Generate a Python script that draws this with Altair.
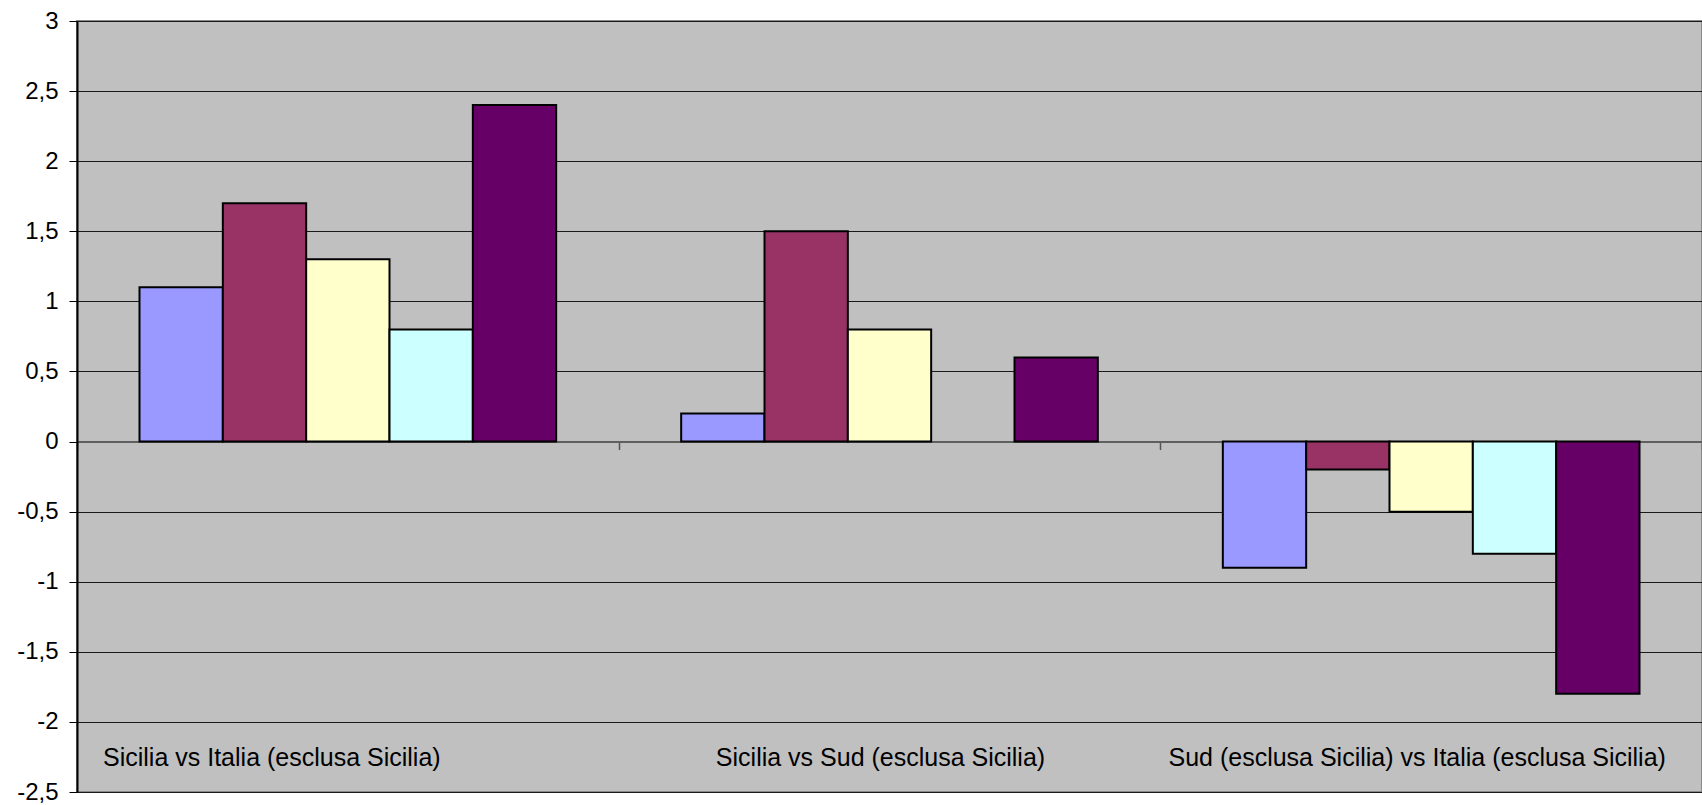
import altair as alt
import pandas as pd

# Confronti territoriali (categorie sull'asse x)
categorie = [
    "Sicilia vs Italia (esclusa Sicilia)",
    "Sicilia vs Sud (esclusa Sicilia)",
    "Sud (esclusa Sicilia) vs Italia (esclusa Sicilia)",
]

# Serie (una barra per serie in ogni categoria)
serie = ["Serie 1", "Serie 2", "Serie 3", "Serie 4", "Serie 5"]
colori = ["#9999FF", "#993366", "#FFFFCC", "#CCFFFF", "#660066"]

# Valori per serie, nell'ordine delle categorie (None = dato assente)
serie_1 = [1.1, 0.2, -0.9]
serie_2 = [1.7, 1.5, -0.2]
serie_3 = [1.3, 0.8, -0.5]
serie_4 = [0.8, None, -0.8]
serie_5 = [2.4, 0.6, -1.8]

tick_y = [-2.5, -2, -1.5, -1, -0.5, 0, 0.5, 1, 1.5, 2, 2.5, 3]

righe = []
for nome, valori in zip(serie, [serie_1, serie_2, serie_3, serie_4, serie_5]):
    for cat, v in zip(categorie, valori):
        if v is not None:
            righe.append({"categoria": cat, "serie": nome, "valore": v})
df = pd.DataFrame(righe)

W, H = 1625, 771
FONT = "Liberation Sans"
y_min, y_max = -2.5, 3.0
# distanza in pixel tra lo zero e il bordo inferiore dell'area del grafico
zero_dal_basso = H * (0 - y_min) / (y_max - y_min)

x_scale = alt.Scale(domain=categorie, paddingInner=0, paddingOuter=0)
y_scale = alt.Scale(domain=[y_min, y_max], nice=False, zero=False)

# Barre con asse delle categorie che passa per lo zero (solo tacche)
barre = alt.Chart(df).mark_bar(stroke="black", strokeWidth=2).encode(
    x=alt.X(
        "categoria:N",
        sort=categorie,
        scale=x_scale,
        title=None,
        axis=alt.Axis(
            orient="bottom",
            offset=-zero_dal_basso,
            labels=False,
            grid=False,
            tickBand="extent",
            ticks=True,
            tickSize=8,
            tickWidth=1.5,
            tickColor="#555555",
            domain=True,
            domainColor="#5f5f5f",
            domainWidth=2,
        ),
    ),
    xOffset=alt.XOffset(
        "serie:N",
        sort=serie,
        scale=alt.Scale(domain=serie, paddingInner=0, paddingOuter=0.75),
    ),
    y=alt.Y(
        "valore:Q",
        scale=y_scale,
        title=None,
        axis=alt.Axis(
            values=tick_y,
            labelExpr="replace(toString(datum.value), '.', ',')",
            labelFont=FONT,
            labelFontSize=24,
            labelColor="black",
            labelPadding=11,
            tickSize=8,
            tickColor="black",
            tickWidth=1,
            domainColor="black",
            domainWidth=2,
            grid=True,
            gridColor="#1a1a1a",
            gridWidth=1,
            gridOpacity=1,
        ),
    ),
    color=alt.Color(
        "serie:N",
        scale=alt.Scale(domain=serie, range=colori),
        legend=None,
    ),
)

# Etichette delle categorie, in basso dentro l'area del grafico
etichette = alt.Chart(pd.DataFrame({"categoria": categorie})).mark_point(
    opacity=0
).encode(
    x=alt.X(
        "categoria:N",
        sort=categorie,
        scale=x_scale,
        title=None,
        axis=alt.Axis(
            orient="top",
            offset=-(H - 27),
            ticks=False,
            tickSize=0,
            domain=False,
            grid=False,
            labelAngle=0,
            labelAlign="center",
            labelPadding=0,
            labelBaseline="alphabetic",
            labelFont=FONT,
            labelFontSize=25,
            labelColor="black",
            labelLimit=1000,
            labelOverlap=False,
            labelOffset={
                "condition": [
                    {"test": f"datum.value === '{categorie[0]}'", "value": -76},
                    {"test": f"datum.value === '{categorie[2]}'", "value": -14},
                ],
                "value": -9,
            },
        ),
    ),
    y=alt.value(0),
)

chart = (
    alt.layer(barre, etichette)
    .resolve_axis(x="independent")
    .properties(
        width=W,
        height=H,
        autosize=alt.AutoSizeParams(type="none"),
        padding={"left": 77, "top": 21, "right": 0, "bottom": 13},
        background="white",
    )
    .configure_view(fill="#C0C0C0", stroke="#8a8a8a", strokeWidth=2)
)

chart.save("out.html", embed_options={"renderer": "svg", "actions": False})
